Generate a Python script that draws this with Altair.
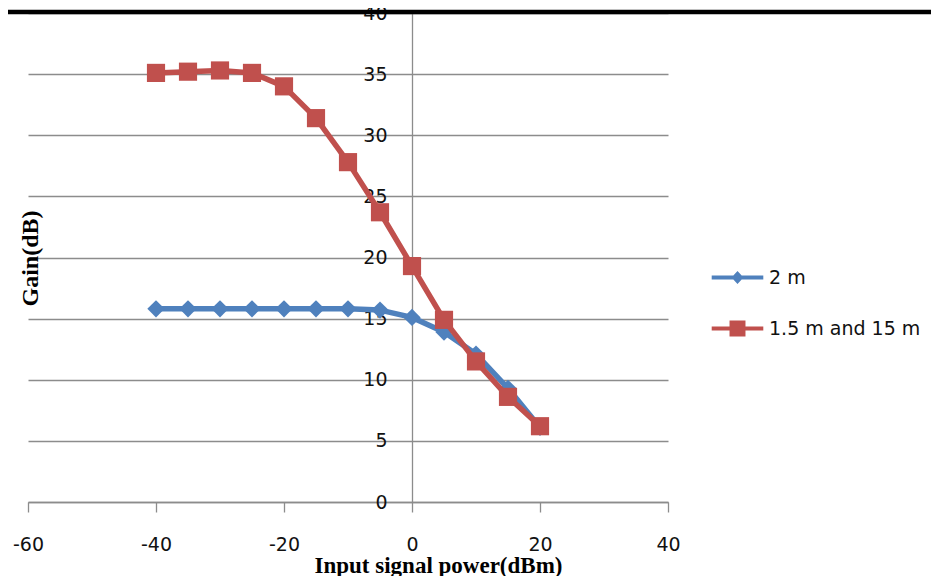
import altair as alt
import pandas as pd

# ---- data ----
input_power = [-40, -35, -30, -25, -20, -15, -10, -5, 0, 5, 10, 15, 20]
gain_2m = [15.8, 15.8, 15.8, 15.8, 15.8, 15.8, 15.8, 15.7, 15.1, 13.9, 12.1, 9.3, 6.1]
gain_15m = [35.1, 35.2, 35.3, 35.1, 34.0, 31.4, 27.8, 23.7, 19.3, 14.9, 11.5, 8.6, 6.2]
series_names = ["2 m", "1.5 m and 15 m"]
series_colors = ["#4F81BD", "#C0504D"]
x_ticks = [-60, -40, -20, 0, 20, 40]
y_ticks = [0, 5, 10, 15, 20, 25, 30, 35, 40]
x_title = "Input signal power(dBm)"
y_title = "Gain(dB)"

df = pd.DataFrame({
    "power": input_power * 2,
    "gain": gain_2m + gain_15m,
    "series": [series_names[0]] * len(input_power) + [series_names[1]] * len(input_power),
})

W, H = 640, 489
X_MIN, X_MAX = x_ticks[0], x_ticks[-1]
GRAY = "#8C8C8C"
SANS = "DejaVu Sans"
SERIF = "Liberation Serif"

xscale = alt.Scale(domain=[X_MIN, X_MAX], nice=False, zero=False)
yscale = alt.Scale(domain=[y_ticks[0], y_ticks[-1]], nice=False, zero=False)
cscale = alt.Scale(domain=series_names, range=series_colors)

# legend symbols: line with marker (custom paths)
path_blue = "M-4.3,-0.33L4.3,-0.33L4.3,0.33L-4.3,0.33Z M0,-1.1L1.0,0L0,1.1L-1.0,0Z"
path_red = "M-4.3,-0.33L4.3,-0.33L4.3,0.33L-4.3,0.33Z M-1.33,-1.33L1.33,-1.33L1.33,1.33L-1.33,1.33Z"
shape_scale = alt.Scale(domain=series_names, range=[path_blue, path_red])

# y axis crosses at x = 0
y_axis_offset = -W * (0 - X_MIN) / (X_MAX - X_MIN)

x_axis = alt.Axis(
    orient="bottom", values=x_ticks, grid=False, title=x_title,
    labelExpr="'' + datum.value",
    domainColor=GRAY, domainWidth=1.3, tickColor=GRAY, tickWidth=1.3, tickSize=10,
    labelPadding=23, labelFlush=False, labelFont=SANS, labelFontSize=19, labelColor="#111",
    titleFont=SERIF, titleFontSize=23, titleFontWeight="bold", titleColor="#000",
    titleX=410, titleY=70, titleBaseline="alphabetic", titleAlign="center",
)
y_axis_grid = alt.Axis(
    orient="left", values=y_ticks, grid=True, gridColor=GRAY, gridWidth=1.3,
    labels=False, ticks=False, domain=False, title=y_title,
    titleFont=SERIF, titleFontSize=24, titleFontWeight="bold", titleColor="#000",
    titleAngle=270, titleX=2, titleY=245, titleBaseline="middle", titleAlign="center",
)
y_axis_labels = alt.Axis(
    orient="left", values=y_ticks, grid=False, offset=y_axis_offset, title=None,
    domainColor=GRAY, domainWidth=1.3, ticks=False, labelPadding=25,
    labelFont=SANS, labelFontSize=19, labelColor="#111",
)

legend = alt.Legend(
    title=None, orient="none", legendX=700, legendY=255,
    labelFont=SANS, labelFontSize=19, labelColor="#111", labelOffset=22,
    rowPadding=31, padding=0, symbolSize=144, symbolStrokeWidth=0, symbolOpacity=1,
)

base = alt.Chart(df)


def series_layers(idx, shape, size):
    name = series_names[idx]
    sub = base.transform_filter(alt.datum.series == name)
    line = sub.mark_line(strokeWidth=5.5, strokeJoin="round", color=series_colors[idx]).encode(
        x=alt.X("power:Q", scale=xscale, axis=None),
        y=alt.Y("gain:Q", scale=yscale, axis=None),
    )
    pts = sub.mark_point(shape=shape, filled=True, size=size, opacity=1, color=series_colors[idx]).encode(
        x=alt.X("power:Q", scale=xscale, axis=None),
        y=alt.Y("gain:Q", scale=yscale, axis=None),
    )
    return line, pts


line_b, pts_b = series_layers(0, "diamond", 300)
line_r, pts_r = series_layers(1, "square", 330)

# axes (grid + y title, x axis) and the y labels on the line x = 0
axis_layer = base.transform_filter("false").mark_point(opacity=0).encode(
    x=alt.X("power:Q", scale=xscale, axis=x_axis),
    y=alt.Y("gain:Q", scale=yscale, axis=y_axis_grid),
)
y_label_layer = base.transform_filter("false").mark_point(opacity=0).encode(
    x=alt.X("power:Q", scale=xscale, axis=None),
    y=alt.Y("gain:Q", scale=yscale, axis=y_axis_labels),
)

legend_layer = base.mark_point(filled=True, size=144, opacity=1, clip=True).encode(
    x=alt.X("power:Q", scale=xscale, axis=None),
    y=alt.Y("gain:Q", scale=yscale, axis=None),
    color=alt.Color("series:N", scale=cscale, legend=legend),
    shape=alt.Shape("series:N", scale=shape_scale, legend=legend),
    opacity=alt.value(0),
)

top_bar = alt.Chart(pd.DataFrame({"a": [0]})).mark_rule(color="black", strokeWidth=4.5).encode(
    x=alt.value(-20), x2=alt.value(W + 263), y=alt.value(-1)
)

chart = (
    alt.layer(axis_layer, y_label_layer, legend_layer, line_b, pts_b, line_r, pts_r, top_bar)
    .resolve_axis(x="independent", y="independent")
    .properties(
        width=W, height=H,
        padding={"left": 20, "top": 5, "right": 263, "bottom": 74},
        autosize=alt.AutoSizeParams(type="none"),
        background="white",
    )
    .configure_view(stroke=None)
)

chart.save("out.html", embed_options={"renderer": "svg", "actions": False})
